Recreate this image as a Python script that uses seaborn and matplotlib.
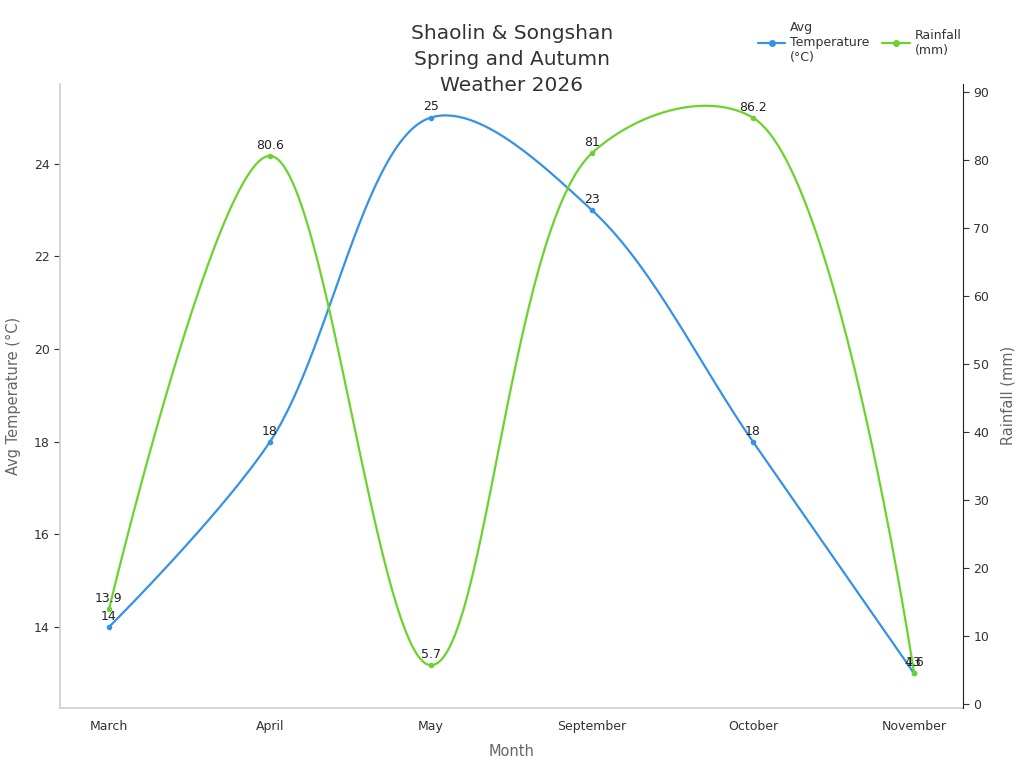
import numpy as np
import pandas as pd
import matplotlib
matplotlib.use("Agg")
import matplotlib.pyplot as plt
import seaborn as sns
from matplotlib.lines import Line2D

months = ["March", "April", "May", "September", "October", "November"]
temp_c = [14, 18, 25, 23, 18, 13]
rain_mm = [13.9, 80.6, 5.7, 81, 86.2, 4.6]

blue = "#3592e6"
green = "#6ad32e"


def catmull_rom(ax, xs, ys, alpha=0.5, n=60):
    # centripetal catmull-rom done in pixel space, then mapped back to data
    P = ax.transData.transform(np.column_stack([xs, ys]))
    k = len(P)
    d = [np.hypot(*(P[i + 1] - P[i])) ** alpha for i in range(k - 1)]
    out = [P[0:1]]
    for i in range(k - 1):
        p0 = P[i - 1] if i > 0 else P[i]
        p1, p2 = P[i], P[i + 1]
        p3 = P[i + 2] if i + 2 < k else P[i + 1]
        l01 = d[i - 1] if i > 0 else 0.0
        l12 = d[i]
        l23 = d[i + 1] if i + 2 < k else 0.0
        c1 = p1.copy()
        if l01 > 1e-9:
            a = 2 * l01**2 + 3 * l01 * l12 + l12**2
            c1 = (p1 * a - p0 * l12**2 + p2 * l01**2) / (3 * l01 * (l01 + l12))
        c2 = p2.copy()
        if l23 > 1e-9:
            b = 2 * l23**2 + 3 * l23 * l12 + l12**2
            c2 = (p2 * b + p1 * l23**2 - p3 * l12**2) / (3 * l23 * (l23 + l12))
        t = np.linspace(0, 1, n)[1:, None]
        seg = ((1 - t)**3 * p1 + 3 * (1 - t)**2 * t * c1
               + 3 * (1 - t) * t**2 * c2 + t**3 * p2)
        out.append(seg)
    pts = ax.transData.inverted().transform(np.vstack(out))
    return pts[:, 0], pts[:, 1]


sns.set_theme(style="white")
plt.rcParams['font.family'] = ['DejaVu Sans']

fig = plt.figure(figsize=(10.24, 7.68), dpi=100)
ax = fig.add_axes([0.0586, 0.078, 0.8818, 0.813])
ax2 = ax.twinx()

# limits first, the smoothing works in pixel space
ax.set_xlim(-0.304, 5.304)
ax.set_ylim(12.25, 25.73)
ax2.set_ylim(-0.6, 91.2)

pts = pd.DataFrame({"x": np.arange(len(months)), "temp": temp_c, "rain": rain_mm})

tx, ty = catmull_rom(ax, pts["x"], pts["temp"])
rx, ry = catmull_rom(ax2, pts["x"], pts["rain"])
sns.lineplot(x=tx, y=ty, ax=ax, color=blue, linewidth=1.6, sort=False)
sns.scatterplot(data=pts, x="x", y="temp", ax=ax, color=blue, s=16, linewidth=0, zorder=3)
sns.lineplot(x=rx, y=ry, ax=ax2, color=green, linewidth=1.6, sort=False)
sns.scatterplot(data=pts, x="x", y="rain", ax=ax2, color=green, s=16, linewidth=0, zorder=3)

for i, v in enumerate(temp_c):
    ax.annotate(f"{v:g}", (i, v), xytext=(0, 3), textcoords="offset points",
                ha="center", va="bottom", fontsize=9, color="#222222")
for i, v in enumerate(rain_mm):
    ax2.annotate(f"{v:g}", (i, v), xytext=(0, 3), textcoords="offset points",
                 ha="center", va="bottom", fontsize=9, color="#222222")

ax.set_xlim(-0.304, 5.304)
ax.set_ylim(12.25, 25.73)
ax2.set_ylim(-0.6, 91.2)
ax.set_xticks(range(len(months)))
ax.set_xticklabels(months)
ax.set_yticks([14, 16, 18, 20, 22, 24])
ax2.set_yticks(range(0, 91, 10))

ax.set_xlabel("Month", fontsize=10.5, color="#666666", labelpad=8)
ax.set_ylabel("Avg Temperature (°C)", fontsize=10.5, color="#666666", labelpad=9)
ax2.set_ylabel("Rainfall (mm)", fontsize=10.5, color="#666666", labelpad=8)

for a in (ax, ax2):
    a.tick_params(axis="both", labelsize=9, colors="#333333", length=4, width=0.8)
    a.spines["top"].set_visible(False)
ax.tick_params(axis="x", length=5, color="#999999")
ax.tick_params(axis="y", color="#333333")
ax.spines["left"].set_color("#d0d0d0")
ax.spines["bottom"].set_color("#d0d0d0")
ax.spines["right"].set_visible(False)
ax2.spines["left"].set_visible(False)
ax2.spines["bottom"].set_visible(False)
ax2.spines["right"].set_color("#222222")
ax2.spines["right"].set_linewidth(0.8)

fig.suptitle("Shaolin & Songshan\nSpring and Autumn\nWeather 2026", x=0.5, y=0.969,
             va="top", fontsize=14.5, color="#333333", linespacing=1.47)

handles = [
    Line2D([0], [0], color=blue, lw=1.6, marker="o", markersize=4),
    Line2D([0], [0], color=green, lw=1.6, marker="o", markersize=4),
]
fig.legend(handles, ["Avg\nTemperature\n(°C)", "Rainfall\n(mm)"], loc="upper right",
           bbox_to_anchor=(0.95, 0.987), ncol=2, frameon=False, fontsize=9,
           handlelength=2.2, handletextpad=0.4, columnspacing=1.0,
           labelcolor="#333333", labelspacing=0.3)

fig.savefig("out.png", dpi=100)
